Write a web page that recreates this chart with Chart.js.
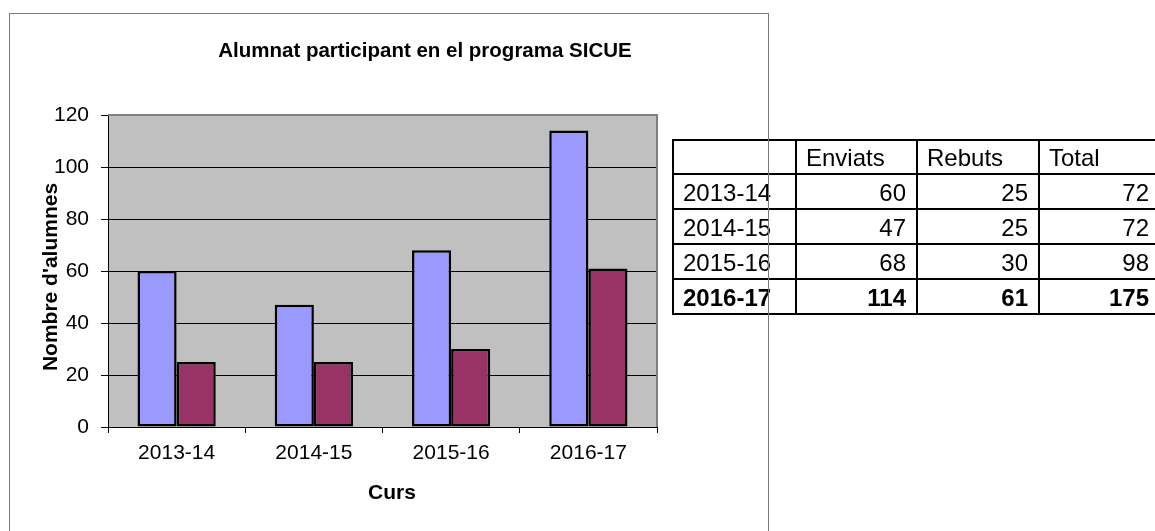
<!DOCTYPE html>
<html>
<head>
<meta charset="utf-8">
<script src="https://cdn.jsdelivr.net/npm/chart.js@4.4.1/dist/chart.umd.min.js"></script>
<style>
  html, body { margin: 0; padding: 0; background: #fff; overflow: hidden; width: 1155px; height: 531px; }
  #chart { position: absolute; left: 0; top: 0; z-index: 1; }
  .frame { position: absolute; left: 9px; top: 13px; width: 760px; height: 600px; box-sizing: border-box;
           border: 1px solid #7a7a7a; z-index: 3; pointer-events: none; }
  table { position: absolute; left: 672px; top: 139px; width: 496px; z-index: 2; border-collapse: collapse;
          font-family: 'Liberation Sans', Arial, sans-serif; font-size: 24px; color: #000; table-layout: fixed; }
  td { border: 2px solid #000; padding: 0 10px 3px 9px; vertical-align: bottom; line-height: 1; height: 30px; white-space: nowrap; }
  tr.head td { height: 29px; }
  td.num { text-align: right; }
  tr.bold td { font-weight: bold; }
</style>
</head>
<body>
<canvas id="chart" width="1155" height="531"></canvas>
<div class="frame"></div>
<table id="dataTable">
  <colgroup><col style="width:123px"><col style="width:121px"><col style="width:122px"><col style="width:130px"></colgroup>
  <tbody></tbody>
</table>
<script>
const cursos = ['2013-14', '2014-15', '2015-16', '2016-17'];
const enviats = [60, 47, 68, 114];
const rebuts = [25, 25, 30, 61];
const totals = [72, 72, 98, 175];
const tableHeaders = ['', 'Enviats', 'Rebuts', 'Total'];

const FONT = "'Liberation Sans', Arial, sans-serif";

// taula de dades a la dreta
const tbody = document.querySelector('#dataTable tbody');
let head = document.createElement('tr');
head.className = 'head';
head.innerHTML = tableHeaders.map(h => `<td>${h}</td>`).join('');
tbody.appendChild(head);
cursos.forEach((c, i) => {
  const tr = document.createElement('tr');
  if (i === cursos.length - 1) tr.className = 'bold';
  tr.innerHTML = `<td>${c}</td><td class="num">${enviats[i]}</td><td class="num">${rebuts[i]}</td><td class="num" style="padding-right:19px">${totals[i]}</td>`;
  tbody.appendChild(tr);
});

// fons gris, vora del gràfic i títols
const plotDeco = {
  id: 'plotDeco',
  beforeDraw(chart) {
    const {ctx, chartArea: a} = chart;
    ctx.save();
    ctx.fillStyle = '#c0c0c0';
    ctx.fillRect(a.left, a.top, a.right - a.left, a.bottom - a.top);
    ctx.restore();
  },
  afterDraw(chart) {
    const {ctx, chartArea: a} = chart;
    ctx.save();
    ctx.strokeStyle = '#808080';
    ctx.lineWidth = 2;
    ctx.beginPath();
    ctx.moveTo(a.left, a.top);
    ctx.lineTo(a.right, a.top);
    ctx.lineTo(a.right, a.bottom);
    ctx.stroke();
    ctx.fillStyle = '#000';
    ctx.textAlign = 'center';
    ctx.textBaseline = 'middle';
    ctx.font = 'bold 20.5px ' + FONT;
    ctx.fillText('Alumnat participant en el programa SICUE', 425, 51);
    ctx.font = 'bold 21px ' + FONT;
    ctx.fillText('Curs', 392, 493);
    ctx.translate(51, 277);
    ctx.rotate(-Math.PI / 2);
    ctx.fillText("Nombre d'alumnes", 0, 0);
    ctx.restore();
  }
};

new Chart(document.getElementById('chart'), {
  type: 'bar',
  data: {
    labels: cursos,
    datasets: [
      { label: 'Enviats', data: enviats, backgroundColor: '#9999ff', borderColor: '#000', borderWidth: 2.5, borderSkipped: false },
      { label: 'Rebuts', data: rebuts, backgroundColor: '#993366', borderColor: '#000', borderWidth: 2.5, borderSkipped: false }
    ]
  },
  options: {
    responsive: false,
    animation: false,
    layout: { padding: { left: 0, top: 115, right: 498, bottom: 0 } },
    datasets: { bar: { categoryPercentage: 0.57, barPercentage: 1 } },
    plugins: { legend: { display: false }, tooltip: { enabled: false } },
    scales: {
      x: {
        afterFit: s => { s.height = 104; },
        grid: { offset: true, drawOnChartArea: false, color: '#000', tickLength: 6 },
        border: { color: '#000', width: 1 },
        ticks: { color: '#000', font: { family: FONT, size: 21 }, padding: 8 }
      },
      y: {
        min: 0, max: 120,
        afterFit: s => { s.width = 108; },
        grid: { color: ctx => ctx.tick && ctx.tick.value === 120 ? '#808080' : '#000', tickColor: '#000', tickLength: 7 },
        border: { color: '#000', width: 1 },
        ticks: { stepSize: 20, color: '#000', font: { family: FONT, size: 21 }, padding: 12 }
      }
    }
  },
  plugins: [plotDeco]
});
</script>
</body>
</html>
